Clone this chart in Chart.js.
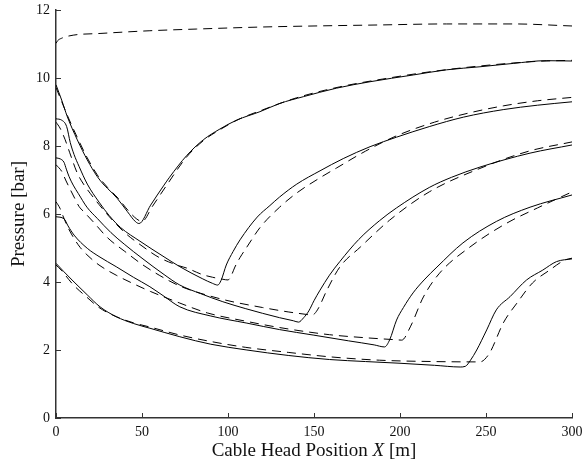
<!DOCTYPE html>
<html>
<head>
<meta charset="utf-8">
<script src="https://cdn.jsdelivr.net/npm/chart.js@4.4.1/dist/chart.umd.min.js"></script>
<style>
  body { margin: 0; background: #fff; }
</style>
</head>
<body>
<canvas id="myCanvas" width="585" height="463"></canvas>
<script>
// axis ticks
const xTicks = [0, 50, 100, 150, 200, 250, 300];
const yTicks = [0, 2, 4, 6, 8, 10, 12];

// solid runs (position [m] / pressure [bar])
const posA = [0, 3.3, 6.6, 12.4, 18.2, 24, 28, 30, 35.6, 41.5, 46.3, 48.3, 55, 62.8, 66, 76, 85.6, 95.3, 105, 118.6, 130, 143.8, 163, 182.6, 207.8, 227, 246.5, 266, 285, 300];
const presA = [9.8, 9.35, 8.86, 8.18, 7.59, 7.1, 6.85, 6.75, 6.46, 6.07, 5.77, 5.72, 6.26, 6.85, 7.08, 7.72, 8.18, 8.5, 8.76, 9.01, 9.25, 9.45, 9.7, 9.89, 10.09, 10.24, 10.33, 10.43, 10.51, 10.5];

const posB = [0, 3.3, 6.2, 8.3, 10.5, 13.4, 18.2, 25, 31, 37.6, 48.8, 62.8, 72, 85, 91, 94, 96, 99, 103, 107, 117, 124.4, 130, 140, 153.5, 167, 182.6, 198, 217, 237, 260, 280, 300];
const presB = [8.8, 8.76, 8.57, 8.1, 7.75, 7.4, 6.88, 6.35, 5.95, 5.6, 5.2, 4.74, 4.45, 4.1, 3.96, 3.91, 4.05, 4.5, 4.9, 5.24, 5.91, 6.25, 6.5, 6.88, 7.27, 7.63, 7.98, 8.26, 8.57, 8.85, 9.07, 9.2, 9.3];

const posC = [0, 2.5, 4.65, 6, 7.6, 10, 13, 18, 24, 32, 40, 50, 62.8, 72, 84, 97, 110, 120, 130, 138, 141, 144, 147, 150, 153.5, 159, 165, 176, 188, 198, 217, 230, 246.5, 275.6, 300];
const presC = [7.65, 7.62, 7.52, 7.32, 7.1, 6.85, 6.6, 6.2, 5.87, 5.45, 5.1, 4.7, 4.22, 3.91, 3.66, 3.42, 3.22, 3.08, 2.95, 2.86, 2.82, 2.95, 3.15, 3.45, 3.76, 4.2, 4.6, 5.25, 5.8, 6.18, 6.78, 7.08, 7.38, 7.79, 8.03];

const posD = [0, 4.65, 7, 10.5, 18.2, 25, 35, 45, 54.6, 62.8, 72, 90, 111, 130, 149.5, 170, 185, 191, 194, 198, 202, 207.6, 214, 221.5, 236.6, 256, 275.6, 300];
const presD = [5.92, 5.86, 5.65, 5.38, 4.99, 4.75, 4.45, 4.14, 3.86, 3.58, 3.27, 3.0, 2.79, 2.6, 2.44, 2.27, 2.15, 2.09, 2.3, 2.88, 3.25, 3.68, 4.06, 4.44, 5.15, 5.78, 6.2, 6.56];

const posE = [0, 4.65, 10.5, 18.2, 25.6, 35, 45, 54.6, 72, 90, 111, 135, 159, 180, 200, 220, 235, 238, 241, 244.6, 250.4, 256, 264, 273.6, 283, 291, 300];
const presE = [4.55, 4.3, 4.0, 3.62, 3.27, 2.98, 2.78, 2.64, 2.39, 2.17, 2.0, 1.84, 1.72, 1.66, 1.61, 1.55, 1.5, 1.52, 1.7, 2.0, 2.59, 3.18, 3.57, 4.06, 4.35, 4.6, 4.68];

// dashed runs
const posT = [0, 1, 3.3, 10, 25.6, 54.6, 81.8, 120, 150, 188, 227, 266, 300];
const presT = [11.02, 11.1, 11.17, 11.26, 11.31, 11.39, 11.44, 11.5, 11.53, 11.56, 11.59, 11.59, 11.53];

const posA2 = [0, 6.6, 12.4, 18.2, 24, 30, 36, 42, 47, 50, 56, 64, 76, 86, 96, 106, 120, 140, 165, 190, 220, 250, 280, 300];
const presA2 = [9.72, 8.9, 8.25, 7.65, 7.15, 6.78, 6.47, 6.1, 5.85, 5.78, 6.22, 6.82, 7.68, 8.17, 8.5, 8.78, 9.06, 9.42, 9.74, 9.97, 10.2, 10.37, 10.49, 10.52];

const posB2 = [0, 2.3, 5.2, 8, 12.4, 16, 20, 25, 31, 40, 50, 60, 72, 76, 85, 91, 97, 100, 102, 104, 107, 111, 118.6, 130, 140, 153, 163, 180, 198, 220, 240, 260, 280, 300];
const presB2 = [8.7, 8.53, 8.2, 7.8, 7.2, 6.88, 6.6, 6.28, 5.92, 5.45, 5.06, 4.72, 4.47, 4.41, 4.22, 4.14, 4.08, 4.06, 4.2, 4.44, 4.72, 5.03, 5.6, 6.2, 6.62, 7.05, 7.35, 7.85, 8.3, 8.7, 8.97, 9.18, 9.33, 9.43];

const posC2 = [0, 3.5, 5.6, 8, 10.5, 13.4, 16.3, 22, 30, 40, 50, 60, 72, 84, 100, 120, 135, 143.6, 149, 152, 157.5, 165, 177, 194, 217, 246, 275, 300];
const presC2 = [7.45, 7.24, 7.0, 6.75, 6.5, 6.22, 6.06, 5.75, 5.3, 4.9, 4.52, 4.2, 3.88, 3.67, 3.45, 3.25, 3.12, 3.06, 3.03, 3.18, 3.76, 4.44, 5.03, 5.82, 6.65, 7.33, 7.85, 8.12];

const posD2 = [0, 2.3, 4, 7, 10.5, 14, 18, 25, 35, 45, 55, 72, 88, 110, 130, 159, 180, 198, 201, 206, 213.6, 223, 240.7, 262, 280, 300];
const presD2 = [6.36, 6.17, 5.95, 5.6, 5.28, 5.02, 4.8, 4.5, 4.2, 3.95, 3.72, 3.38, 3.09, 2.85, 2.66, 2.45, 2.36, 2.3, 2.29, 2.68, 3.56, 4.26, 5.03, 5.73, 6.18, 6.65];

const posE2 = [0, 3, 10, 18, 25, 35, 45, 55, 72, 90, 110, 135, 159, 188, 220, 246.5, 252, 254, 260, 268, 277, 287, 296, 300];
const presE2 = [4.5, 4.35, 3.92, 3.55, 3.25, 2.98, 2.8, 2.67, 2.44, 2.25, 2.08, 1.93, 1.8, 1.7, 1.66, 1.65, 1.9, 2.1, 2.79, 3.38, 3.97, 4.35, 4.65, 4.7];

const SERIF = "'Liberation Serif', 'Times New Roman', serif";

function toPoints(xs, ys) {
  return xs.map((x, i) => ({x: x, y: ys[i]}));
}

function line(xs, ys, dashed) {
  return {
    data: toPoints(xs, ys),
    borderColor: "#000",
    borderWidth: 1,
    borderDash: dashed ? [9, 6] : [],
    pointRadius: 0,
    fill: false,
    cubicInterpolationMode: "monotone",
  };
}

// matlab-like ticks pointing into the plot, plus x title with italic X
const axisExtras = {
  id: "axisExtras",
  afterDraw(chart) {
    const ctx = chart.ctx;
    const area = chart.chartArea;
    const xs = chart.scales.x;
    const ys = chart.scales.y;
    ctx.save();
    ctx.strokeStyle = "#333";
    ctx.lineWidth = 1;
    ctx.beginPath();
    xTicks.forEach(v => {
      const px = Math.round(xs.getPixelForValue(v)) + 0.5;
      ctx.moveTo(px, area.bottom);
      ctx.lineTo(px, area.bottom - 5);
    });
    yTicks.forEach(v => {
      const py = Math.round(ys.getPixelForValue(v)) + 0.5;
      ctx.moveTo(area.left, py);
      ctx.lineTo(area.left + 5, py);
    });
    ctx.stroke();

    const parts = [["Cable Head Position ", ""], ["X", "italic "], [" [m]", ""]];
    let total = 0;
    parts.forEach(p => {
      ctx.font = p[1] + "19px " + SERIF;
      total += ctx.measureText(p[0]).width;
    });
    let cx = (area.left + area.right) / 2 - total / 2;
    ctx.fillStyle = "#111";
    ctx.textBaseline = "middle";
    ctx.textAlign = "left";
    parts.forEach(p => {
      ctx.font = p[1] + "19px " + SERIF;
      ctx.fillText(p[0], cx, 451);
      cx += ctx.measureText(p[0]).width;
    });
    ctx.restore();
  }
};

const ctx = document.getElementById("myCanvas").getContext("2d");
new Chart(ctx, {
  type: "line",
  data: {
    datasets: [
      line(posT, presT, true),
      line(posA2, presA2, true),
      line(posB2, presB2, true),
      line(posC2, presC2, true),
      line(posD2, presD2, true),
      line(posE2, presE2, true),
      line(posA, presA, false),
      line(posB, presB, false),
      line(posC, presC, false),
      line(posD, presD, false),
      line(posE, presE, false),
    ],
  },
  options: {
    responsive: false,
    animation: false,
    layout: { padding: { top: 10, right: 13, left: 0, bottom: 0 } },
    plugins: { legend: { display: false }, tooltip: { enabled: false } },
    scales: {
      x: {
        type: "linear",
        min: 0,
        max: 300,
        afterBuildTicks: s => { s.ticks = xTicks.map(v => ({value: v})); },
        afterFit: s => { s.height = 45; s.paddingLeft = 0; s.paddingRight = 0; },
        grid: { display: true, drawOnChartArea: false, drawTicks: false },
        border: { display: true, color: "#333", width: 1.5 },
        ticks: { padding: 6, color: "#111", font: { family: SERIF, size: 14 }, maxRotation: 0 },
      },
      y: {
        type: "linear",
        min: 0,
        max: 12,
        afterBuildTicks: s => { s.ticks = yTicks.map(v => ({value: v})); },
        afterFit: s => { s.width = 56; s.paddingTop = 0; s.paddingBottom = 0; },
        grid: { display: true, drawOnChartArea: false, drawTicks: false },
        border: { display: true, color: "#333", width: 1.5 },
        ticks: { padding: 6, color: "#111", font: { family: SERIF, size: 14 } },
        title: {
          display: true,
          text: "Pressure [bar]",
          color: "#111",
          font: { family: SERIF, size: 19 },
          padding: { top: 8, bottom: 0 },
        },
      },
    },
  },
  plugins: [axisExtras],
});
</script>
</body>
</html>
